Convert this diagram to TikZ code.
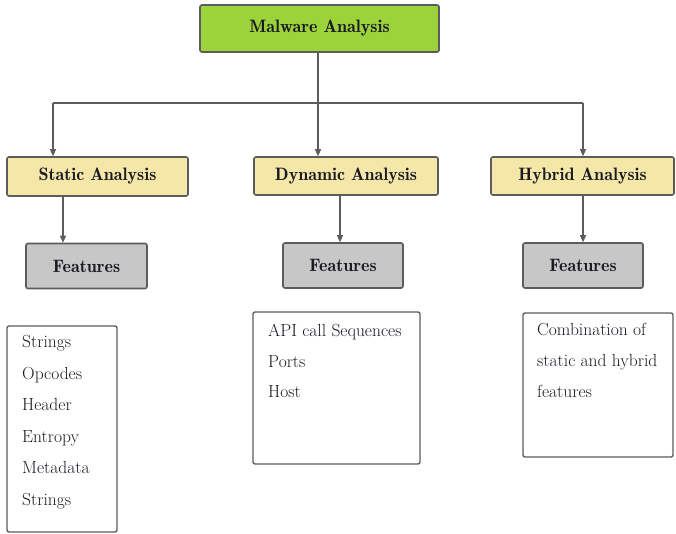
\documentclass[tikz,border=0pt]{standalone}
\usetikzlibrary{arrows.meta}
\definecolor{topgreen}{HTML}{9CD23A}
\definecolor{khaki}{HTML}{F4E7A8}
\definecolor{featgray}{HTML}{C7C7C7}
\definecolor{edge}{HTML}{5C5C5C}
\definecolor{ink}{HTML}{1A1A24}
\tikzset{
  box/.style={draw=edge, line width=1.6pt, rounded corners=2pt, inner sep=0pt, text=ink},
  headbox/.style={box, font=\fontsize{18}{20}\fontseries{b}\selectfont},
  listbox/.style={box, fill=white, line width=1.4pt},
  listtext/.style={anchor=north west, inner sep=0pt, align=left, text=ink},
  arr/.style={draw=edge, line width=1.1pt, -{Triangle[width=6pt,length=7pt]}},
  wire/.style={draw=edge, line width=1.1pt}
}
\begin{document}
\begin{tikzpicture}[x=1pt, y=-1pt]
\useasboundingbox (0,0) rectangle (676,534);

% root
\node[headbox, fill=topgreen, minimum width=239pt, minimum height=47pt] (top) at (319.5,28.5) {Malware Analysis};

% analysis kinds
\node[headbox, fill=khaki, minimum width=181pt, minimum height=39pt] (static) at (97.5,176.5) {Static Analysis};
\node[headbox, fill=khaki, minimum width=184pt, minimum height=38pt] (dynamic) at (346,176) {Dynamic Analysis};
\node[headbox, fill=khaki, minimum width=183pt, minimum height=38pt] (hybrid) at (582.5,176) {Hybrid Analysis};

% feature headers
\node[headbox, fill=featgray, minimum width=121pt, minimum height=45pt] (fs) at (86.5,266) {Features};
\node[headbox, fill=featgray, minimum width=120pt, minimum height=45pt] (fd) at (343,265.5) {Features};
\node[headbox, fill=featgray, minimum width=120pt, minimum height=45pt] (fh) at (583,265.5) {Features};

% feature lists
\node[listbox, minimum width=110pt, minimum height=206pt] (ls) at (62,429) {};
\node[listbox, minimum width=167pt, minimum height=152pt] (ld) at (336.5,388) {};
\node[listbox, minimum width=150pt, minimum height=144pt] (lh) at (598,385) {};

\node[listtext, font=\fontsize{17.5}{31.6}\selectfont] (ts) at (22,335)
  {Strings\\Opcodes\\Header\\Entropy\\Metadata\\Strings};
\node[listtext, font=\fontsize{17.5}{30.5}\selectfont] (td) at (268,324)
  {API call Sequences\\Ports\\Host};
\node[listtext, font=\fontsize{17.5}{31}\selectfont] (th) at (537,323.5)
  {Combination of\\static and hybrid\\features};

% connectors
\coordinate (busL) at (53,103);
\coordinate (busM) at (318,103);
\coordinate (busR) at (583,103);
\draw[wire] (top.south -| busM) -- (busM);
\draw[wire] (busL) -- (busR);
\draw[arr] (busL) -- (static.north -| busL);
\draw[arr] (busM) -- (dynamic.north -| busM);
\draw[arr] (busR) -- (hybrid.north -| busR);

\coordinate (xs) at (63,0);
\coordinate (xd) at (340,0);
\coordinate (xh) at (583,0);
\draw[arr] (static.south -| xs) -- (fs.north -| xs);
\draw[arr] (dynamic.south -| xd) -- (fd.north -| xd);
\draw[arr] (hybrid.south -| xh) -- (fh.north -| xh);
\end{tikzpicture}
\end{document}
